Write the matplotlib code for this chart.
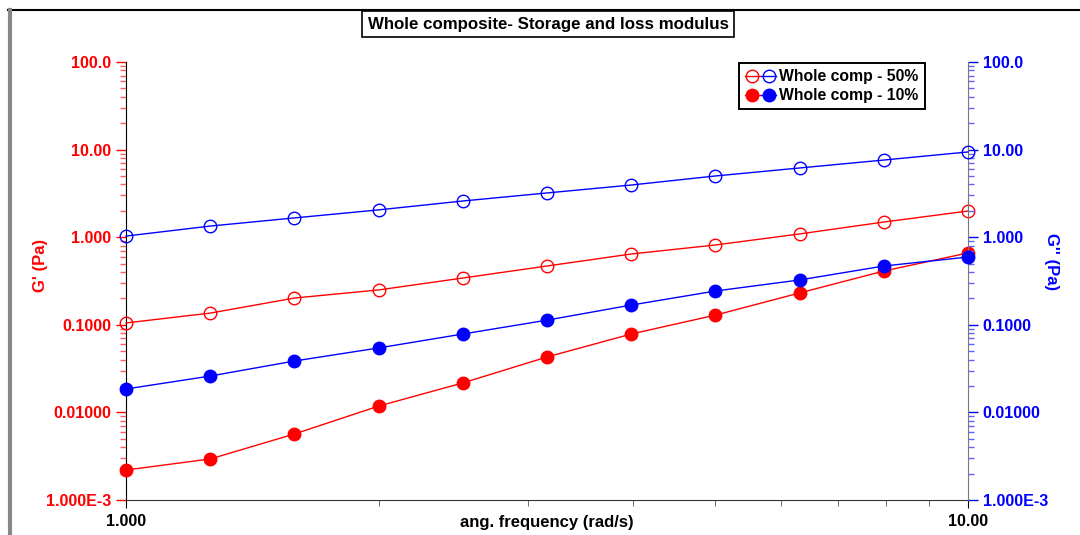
import numpy as np
import matplotlib
matplotlib.use("Agg")
import matplotlib.pyplot as plt
from matplotlib.lines import Line2D
from matplotlib.legend_handler import HandlerTuple
from matplotlib.ticker import FixedLocator, LogLocator, NullFormatter

plt.rcParams['font.family'] = ['Liberation Sans', 'DejaVu Sans']
plt.rcParams['font.weight'] = 'bold'

# Dados
freq = [1.0, 1.259, 1.585, 1.995, 2.512, 3.162, 3.981, 5.012, 6.310, 7.943, 10.0]
g1_50 = [0.105, 0.136, 0.202, 0.250, 0.342, 0.469, 0.643, 0.815, 1.09, 1.49, 1.99]
g2_50 = [1.03, 1.34, 1.66, 2.05, 2.59, 3.20, 3.94, 5.0, 6.17, 7.6, 9.4]
g1_10 = [0.0022, 0.00294, 0.00567, 0.0118, 0.0217, 0.0429, 0.0785, 0.129, 0.231, 0.411, 0.661]
g2_10 = [0.0185, 0.0260, 0.0386, 0.0544, 0.0785, 0.113, 0.168, 0.243, 0.325, 0.469, 0.594]

y_ticks = [1e-3, 1e-2, 1e-1, 1, 10, 100]
y_labels = ["1.000E-3", "0.01000", "0.1000", "1.000", "10.00", "100.0"]
x_ticks = [1, 10]
x_labels = ["1.000", "10.00"]

red = "#FF0000"
blue = "#0000FF"

fig = plt.figure(figsize=(10.8, 5.35), dpi=100)
ax = fig.add_axes([126/1080, 35/535, 842/1080, 438/535])
ax2 = ax.twinx()

for a in (ax, ax2):
    a.set_xscale("log")
    a.set_yscale("log")
    a.set_xlim(1, 10)
    a.set_ylim(1e-3, 100)
    a.spines['top'].set_visible(False)

ms = 9
l1, = ax.plot(freq, g1_50, color=red, lw=1, marker='o', ms=ms, mfc='none', mew=1, clip_on=False, zorder=3)
l3, = ax.plot(freq, g1_10, color=red, lw=1, marker='o', ms=ms, mfc=red, mew=1, clip_on=False, zorder=3)
l2, = ax2.plot(freq, g2_50, color=blue, lw=1, marker='o', ms=ms, mfc='none', mew=1, clip_on=False, zorder=3)
l4, = ax2.plot(freq, g2_10, color=blue, lw=1, marker='o', ms=ms, mfc=blue, mew=1, clip_on=False, zorder=3)

# eixo esquerdo
ax.yaxis.set_major_locator(FixedLocator(y_ticks))
ax.set_yticklabels(y_labels)
ax.yaxis.set_minor_locator(LogLocator(base=10, subs=np.arange(2, 10)))
ax.yaxis.set_minor_formatter(NullFormatter())
ax.tick_params(axis='y', which='major', colors=red, labelsize=11.5, length=7, width=1, direction='out')
ax.tick_params(axis='y', which='minor', colors="#FF6060", length=4, width=1, direction='out')
ax.spines['left'].set_color('black')
ax.spines['right'].set_visible(False)
ax.spines['bottom'].set_color('#333333')

# eixo x
ax.xaxis.set_major_locator(FixedLocator(x_ticks))
ax.set_xticklabels(x_labels)
ax.xaxis.set_minor_locator(LogLocator(base=10, subs=np.arange(2, 10)))
ax.xaxis.set_minor_formatter(NullFormatter())
ax.tick_params(axis='x', which='major', colors='black', labelsize=11.5, length=6, direction='out', pad=4)
ax.tick_params(axis='x', which='minor', colors='#555555', length=4, direction='out')

# eixo direito
ax2.yaxis.set_major_locator(FixedLocator(y_ticks))
ax2.set_yticklabels(y_labels)
ax2.yaxis.set_minor_locator(LogLocator(base=10, subs=np.arange(2, 10)))
ax2.yaxis.set_minor_formatter(NullFormatter())
ax2.tick_params(axis='y', which='major', colors=blue, labelsize=11.5, length=7, width=1, direction='out')
ax2.tick_params(axis='y', which='minor', colors="#6060FF", length=4, width=1, direction='out')
ax2.spines['right'].set_color('#777777')
ax2.spines['left'].set_visible(False)
ax2.spines['bottom'].set_visible(False)

for t in ax.get_yticklabels() + ax2.get_yticklabels() + ax.get_xticklabels():
    t.set_fontweight('bold')

ax.set_xlabel("ang. frequency (rad/s)", fontsize=12, fontweight='bold', labelpad=-10)
fig.text(40/1080, 1 - 265/535, "G' (Pa)", color=red, fontsize=12, fontweight='bold',
         rotation=90, ha='center', va='center')
fig.text(1052/1080, 1 - 262/535, "G'' (Pa)", color=blue, fontsize=12, fontweight='bold',
         rotation=270, ha='center', va='center')

fig.text(548/1080, 1 - 24/535, "Whole composite- Storage and loss modulus", fontsize=12.2,
         fontweight='bold', ha='center', va='center',
         bbox=dict(boxstyle='square,pad=0.3', fc='white', ec='black', lw=1.2))

leg = ax2.legend([(l1, l2), (l3, l4)], ["Whole comp - 50%", "Whole comp - 10%"],
                 handler_map={tuple: HandlerTuple(ndivide=None, pad=0.1)},
                 loc='upper right', bbox_to_anchor=(925/1080, 1 - 63/535),
                 bbox_transform=fig.transFigure, fancybox=False, edgecolor='black',
                 framealpha=1, fontsize=11.3, handlelength=2.0, handletextpad=0.2,
                 borderpad=0.4, labelspacing=0.25, borderaxespad=0)
leg.get_frame().set_linewidth(1.4)
for t in leg.get_texts():
    t.set_fontweight('bold')

# moldura da figura
fig.add_artist(Line2D([8/1080, 1], [1 - 10/535, 1 - 10/535], transform=fig.transFigure, color='black', lw=1.5))
fig.add_artist(Line2D([9.5/1080, 9.5/1080], [0, 1 - 10/535], transform=fig.transFigure, color='#888888', lw=3))

fig.savefig("out.png", dpi=100)
